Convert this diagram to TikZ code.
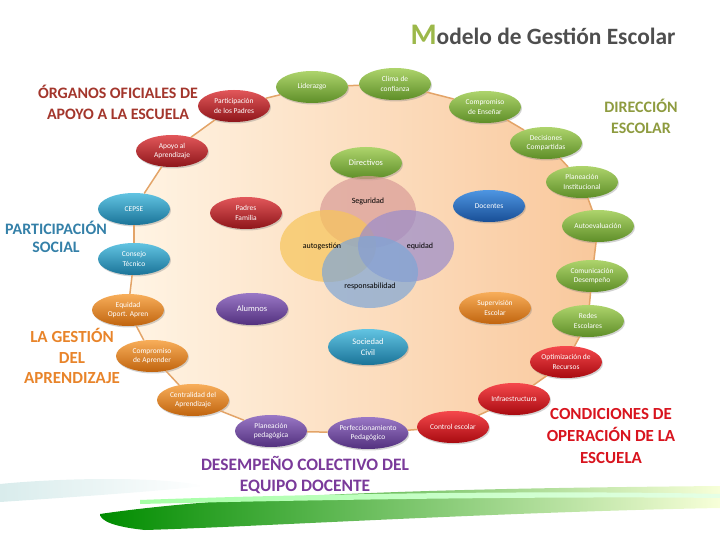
\documentclass[tikz,border=0pt]{standalone}
\usepackage{fontspec}
\setmainfont{Carlito}
\usetikzlibrary{shapes.geometric,shadows,backgrounds}

\definecolor{ringline}{HTML}{E3A468}
\definecolor{ringl}{HTML}{FFF4E4}
\definecolor{ringr}{HTML}{F9C89C}
\definecolor{titlegray}{HTML}{4E4E4E}
\definecolor{titlegreen}{HTML}{9CB84A}
\definecolor{cdir}{HTML}{8E9B3F}
\definecolor{corg}{HTML}{A3362C}
\definecolor{cpar}{HTML}{3480A8}
\definecolor{cges}{HTML}{E8842A}
\definecolor{cdes}{HTML}{7A3A9A}
\definecolor{ccon}{HTML}{D8141E}
% bubble colours: top / middle / bottom
\definecolor{gnt}{HTML}{AED46C}\definecolor{gnm}{HTML}{8BBE45}\definecolor{gnb}{HTML}{5E8E28}
\definecolor{rdt}{HTML}{E2575A}\definecolor{rdm}{HTML}{C4262C}\definecolor{rdb}{HTML}{8E161A}
\definecolor{rbt}{HTML}{F5484C}\definecolor{rbm}{HTML}{E4101A}\definecolor{rbb}{HTML}{A80A10}
\definecolor{tlt}{HTML}{62C4E2}\definecolor{tlm}{HTML}{2C9FC8}\definecolor{tlb}{HTML}{1A7398}
\definecolor{ogt}{HTML}{F8AE5A}\definecolor{ogm}{HTML}{EC8A26}\definecolor{ogb}{HTML}{C0640E}
\definecolor{put}{HTML}{9A78C6}\definecolor{pum}{HTML}{7650A8}\definecolor{pub}{HTML}{52307E}
\definecolor{blt}{HTML}{4E96E2}\definecolor{blm}{HTML}{2C74C8}\definecolor{blb}{HTML}{184E96}
% value circles
\definecolor{vseg}{HTML}{D99C98}
\definecolor{vaut}{HTML}{F7C55A}
\definecolor{vequ}{HTML}{9A8CCB}
\definecolor{vres}{HTML}{7EA6D6}

\tikzset{
  bubble/.style={ellipse, minimum width=72bp, minimum height=32bp, inner sep=0pt,
    align=center, text=white, font=\fontsize{7.5}{9.5}\selectfont,
    drop shadow={opacity=0.35, shadow xshift=1pt, shadow yshift=-1.5pt}},
  gn/.style={bubble, top color=gnt, middle color=gnm, bottom color=gnb},
  rd/.style={bubble, top color=rdt, middle color=rdm, bottom color=rdb},
  rb/.style={bubble, top color=rbt, middle color=rbm, bottom color=rbb},
  tl/.style={bubble, top color=tlt, middle color=tlm, bottom color=tlb},
  og/.style={bubble, top color=ogt, middle color=ogm, bottom color=ogb},
  pu/.style={bubble, top color=put, middle color=pum, bottom color=pub},
  bl/.style={bubble, top color=blt, middle color=blm, bottom color=blb},
  venn/.style={ellipse, minimum width=96bp, minimum height=72bp, inner sep=0pt, fill opacity=0.7},
  vtxt/.style={font=\fontsize{8}{9}\selectfont, text=black},
  group/.style={align=center, font=\bfseries\fontsize{16}{21}\selectfont},
  ring/.style={draw=ringline, line width=1.5pt}
}

\begin{document}
\begin{tikzpicture}[x=1bp, y=-1bp]
\useasboundingbox (0,0) rectangle (720,540);
% title
\draw (543,35) node[text=titlegray, font=\bfseries\fontsize{23.5}{24}\selectfont] (title)
  {\textcolor{titlegreen}{\fontsize{30}{30}\selectfont M}odelo de Gestión Escolar};
% outer ring
\draw (234,106) node[rd] (padres) {Participación\\de los Padres};
\draw (312,87) node[gn] (lid) {Liderazgo};
\draw (395,84) node[gn] (clima) {Clima de\\confianza};
\draw (485,107) node[gn] (ense) {Compromiso\\de Enseñar};
\draw (546,143) node[gn] (deci) {Decisiones\\Compartidas};
\draw (582,182) node[gn] (pinst) {Planeación\\Institucional};
\draw (598,226) node[gn] (auto) {Autoevaluación};
\draw (592,276) node[gn] (comu) {Comunicación\\Desempeño};
\draw (588,321) node[gn] (redes) {Redes\\Escolares};
\draw (566,362) node[rb] (opti) {Optimización de\\Recursos};
\draw (514,399) node[rb] (infra) {Infraestructura};
\draw (453,427) node[rb] (control) {Control escolar};
\draw (368,433) node[pu] (perf) {Perfeccionamiento\\Pedagógico};
\draw (271,431) node[pu] (pped) {Planeación\\pedagógica};
\draw (193,400) node[og] (centr) {Centralidad del\\Aprendizaje};
\draw (152,356) node[og] (capr) {Compromiso\\de Aprender};
\draw (128,310) node[og] (equi) {Equidad\\Oport. Apren};
\draw (134,259) node[tl] (consejo) {Consejo\\Técnico};
\draw (134,209) node[tl] (cepse) {CEPSE};
\draw (172,151) node[rd] (apoyo) {Apoyo al\\Aprendizaje};
\foreach \a/\b in {padres/lid, lid/clima, clima/ense, ense/deci, deci/pinst, pinst/auto,
  auto/comu, comu/redes, redes/opti, opti/infra, infra/control, control/perf, perf/pped,
  pped/centr, centr/capr, capr/equi, equi/consejo, consejo/cepse, cepse/apoyo, apoyo/padres}
  \draw[ring] (\a) -- (\b);
\begin{pgfonlayer}{background}
\shade[left color=ringl, right color=ringr] (padres.center) -- (lid.center) -- (clima.center)
  -- (ense.center) -- (deci.center) -- (pinst.center) -- (auto.center) -- (comu.center)
  -- (redes.center) -- (opti.center) -- (infra.center) -- (control.center) -- (perf.center)
  -- (pped.center) -- (centr.center) -- (capr.center) -- (equi.center) -- (consejo.center)
  -- (cepse.center) -- (apoyo.center) -- cycle;
\end{pgfonlayer}
% inner actors
\draw (366,163) node[gn, font=\fontsize{8.5}{10}\selectfont] (dir) {Directivos};
\draw (246,213) node[rd] (pfam) {Padres\\Familia};
\draw (489,206) node[bl] (doc) {Docentes};
\draw (252,309) node[pu, font=\fontsize{8.5}{10}\selectfont] (alu) {Alumnos};
\draw (495,308) node[og] (sup) {Supervisión\\Escolar};
\draw (368,347) node[tl, minimum width=80bp, minimum height=36bp, font=\fontsize{8.5}{10.5}\selectfont] (soc) {Sociedad\\Civil};
% values
\draw (368,212) node[venn, fill=vseg] (seg) {};
\draw (328,246) node[venn, fill=vaut] (autog) {};
\draw (406,246) node[venn, fill=vequ] (equid) {};
\draw (370,272) node[venn, fill=vres] (resp) {};
\draw (seg.center)++(0,-11) node[vtxt] {Seguridad};
\draw (autog.center)++(-6,0) node[vtxt] {autogestión};
\draw (equid.center)++(14,0) node[vtxt] {equidad};
\draw (resp.center)++(0,14) node[vtxt] {responsabilidad};
% group titles
\draw (118,102) node[group, text=corg] (gorg) {ÓRGANOS OFICIALES DE\\APOYO A LA ESCUELA};
\draw (641,116) node[group, text=cdir] (gdir) {DIRECCIÓN\\ESCOLAR};
\draw (56,237) node[group, text=cpar, font=\bfseries\fontsize{16}{18}\selectfont] (gpar) {PARTICIPACIÓN\\SOCIAL};
\draw (72,356) node[group, text=cges, font=\bfseries\fontsize{17}{21}\selectfont] (gges) {LA GESTIÓN\\DEL\\APRENDIZAJE};
\draw (305,475) node[group, text=cdes, font=\bfseries\fontsize{17.5}{21}\selectfont] (gdes) {DESEMPEÑO COLECTIVO DEL\\EQUIPO DOCENTE};
\draw (611,436) node[group, text=ccon, font=\bfseries\fontsize{17}{22}\selectfont] (gcon) {CONDICIONES DE\\OPERACIÓN DE LA\\ESCUELA};
% swoosh
\begin{pgfonlayer}{background}
\shade[left color=teal!15!white, right color=white] (0,484) .. controls (60,478) and (160,476) .. (205,486)
  .. controls (150,492) and (60,498) .. (0,502) -- cycle;
\shade[left color=green!55!black, right color=green!20!yellow!15!white] (100,514)
  .. controls (250,492) and (500,488) .. (720,486) -- (720,508)
  .. controls (500,512) and (250,527) .. (145,530) .. controls (115,527) and (100,521) .. (100,514);
\shade[left color=green!35!white, right color=green!10!white] (140,500) .. controls (300,494) and (550,490) .. (720,494)
  -- (720,498) .. controls (550,496) and (300,500) .. (140,504) -- cycle;
\end{pgfonlayer}
\end{tikzpicture}
\end{document}
